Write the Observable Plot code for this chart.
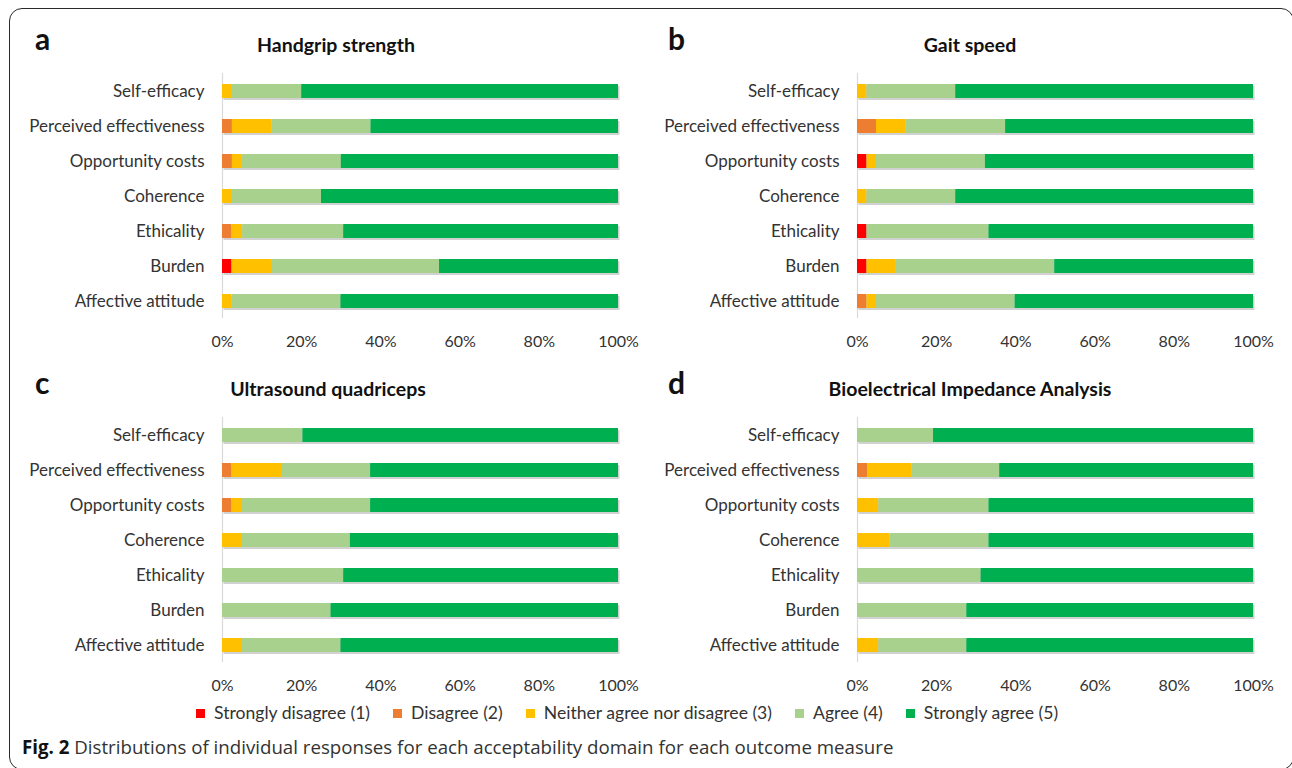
<!DOCTYPE html>
<html>
<head>
<meta charset="utf-8">
<script src="https://cdn.jsdelivr.net/npm/d3@7"></script>
<script src="https://cdn.jsdelivr.net/npm/@observablehq/plot@0.6"></script>
<style>
  html, body { margin: 0; padding: 0; background: #fff; }
  #root { position: relative; width: 1292px; height: 768px; overflow: hidden; background: #fff; font-family: Lato, "Noto Sans", sans-serif; }
  .frame { position: absolute; left: 9px; top: 8px; width: 1285px; height: 761.5px; border: 1.5px solid #2a2a2a; border-radius: 13px; box-sizing: border-box; }
  .panel { position: absolute; }
  .letter { position: absolute; font-family: Lato, sans-serif; font-weight: 700; font-size: 30px; line-height: 30px; color: #111; }
  .title { position: absolute; font-family: Lato, sans-serif; font-weight: 700; font-size: 19.5px; line-height: 20px; color: #111; transform: translateX(-50%); white-space: nowrap; }
  .legend { position: absolute; left: 196px; top: 703px; display: flex; gap: 23px; font-family: Lato, sans-serif; font-size: 17.6px; line-height: 20px; color: #333; }
  .legend .item { display: flex; align-items: center; gap: 9px; white-space: nowrap; }
  .legend .sw { width: 9px; height: 9px; display: inline-block; }
  .caption { position: absolute; left: 22px; top: 735px; font-family: "Open Sans", sans-serif; font-size: 18.7px; line-height: 24px; color: #333; white-space: nowrap; }
  .caption b { color: #111; }
</style>
</head>
<body>
<div id="root">
  <div class="frame"></div>
</div>
<script>
// ---- Data (percent of responses) ----
const domains = ["Self-efficacy", "Perceived effectiveness", "Opportunity costs", "Coherence", "Ethicality", "Burden", "Affective attitude"];
const levels = ["Strongly disagree (1)", "Disagree (2)", "Neither agree nor disagree (3)", "Agree (4)", "Strongly agree (5)"];
const levelColors = ["#FF0000", "#ED7D31", "#FFC000", "#A9D18E", "#00B050"];
const xTicks = [0, 20, 40, 60, 80, 100];
const panelLetters = ["a", "b", "c", "d"];
const panelTitles = ["Handgrip strength", "Gait speed", "Ultrasound quadriceps", "Bioelectrical Impedance Analysis"];

// rows follow `domains`; columns follow `levels`
const handgripStrength = [
  [0, 0, 2.5, 17.5, 80.0],
  [0, 2.5, 10.0, 25.0, 62.5],
  [0, 2.5, 2.5, 25.0, 70.0],
  [0, 0, 2.5, 22.5, 75.0],
  [0, 2.4, 2.7, 25.5, 69.4],
  [2.4, 0, 10.0, 42.4, 45.2],
  [0, 0, 2.4, 27.5, 70.1]
];
const gaitSpeed = [
  [0, 0, 2.4, 22.4, 75.2],
  [0, 4.8, 7.5, 25.1, 62.6],
  [2.4, 0, 2.4, 27.5, 67.7],
  [0, 0, 2.4, 22.4, 75.2],
  [2.4, 0, 0, 30.8, 66.8],
  [2.4, 0, 7.4, 40.0, 50.2],
  [0, 2.4, 2.4, 35.0, 60.2]
];
const ultrasoundQuadriceps = [
  [0, 0, 0, 20.3, 79.7],
  [0, 2.4, 12.5, 22.5, 62.6],
  [0, 2.4, 2.4, 32.6, 62.6],
  [0, 0, 4.8, 27.5, 67.7],
  [0, 0, 0, 30.6, 69.4],
  [0, 0, 0, 27.4, 72.6],
  [0, 0, 4.8, 25.1, 70.1]
];
const bioelectricalImpedance = [
  [0, 0, 0, 19.2, 80.8],
  [0, 2.6, 11.2, 22.1, 64.1],
  [0, 0, 5.4, 27.8, 66.8],
  [0, 0, 8.2, 25.0, 66.8],
  [0, 0, 0, 31.2, 68.8],
  [0, 0, 0, 27.6, 72.4],
  [0, 0, 5.4, 22.2, 72.4]
];
const panelData = [handgripStrength, gaitSpeed, ultrasoundQuadriceps, bioelectricalImpedance];

// ---- Layout ----
const root = document.getElementById("root");
const W = 646, H = 358;
const layouts = [
  {left: 0, top: 0, ml: 222, mr: 28, letterX: 35, titleX: 336},
  {left: 646, top: 0, ml: 211, mr: 39, letterX: 668, titleX: 970},
  {left: 0, top: 344, ml: 222, mr: 28, letterX: 35, titleX: 328},
  {left: 646, top: 344, ml: 211, mr: 39, letterX: 668, titleX: 970}
];

panelData.forEach((rows, i) => {
  const L = layouts[i];
  const data = [];
  rows.forEach((vals, r) => vals.forEach((v, c) => data.push({domain: domains[r], level: levels[c], value: v})));
  const totals = rows.map((vals, r) => ({domain: domains[r], total: d3.sum(vals)}));

  const chart = Plot.plot({
    width: W, height: H,
    marginLeft: L.ml, marginRight: L.mr, marginTop: 73, marginBottom: 40,
    style: {fontFamily: "Lato, sans-serif", fontSize: "16px", color: "#333", background: "transparent", overflow: "visible"},
    x: {domain: [0, 100], label: null},
    y: {domain: domains, paddingInner: 0.6, paddingOuter: 0.3, label: null},
    color: {domain: levels, range: levelColors},
    marks: [
      Plot.ruleX([0], {stroke: "#d9d9d9", strokeWidth: 1.2}),
      Plot.barX(totals, {x1: 0, x2: "total", y: "domain", fill: "#9a9a9a", fillOpacity: 0.45, dx: 1.5, dy: 2}),
      Plot.barX(data, Plot.stackX({x: "value", y: "domain", fill: "level", order: levels})),
      Plot.axisY({tickSize: 0, tickPadding: 18, fontSize: 17, fill: "#333", label: null}),
      Plot.axisX({ticks: xTicks, tickFormat: d => d + "%", tickSize: 0, tickPadding: 17, fontSize: 16, fill: "#333", label: null})
    ]
  });
  const wrap = document.createElement("div");
  wrap.className = "panel";
  wrap.style.left = L.left + "px";
  wrap.style.top = L.top + "px";
  wrap.appendChild(chart);
  root.appendChild(wrap);

  const letter = document.createElement("div");
  letter.className = "letter";
  letter.textContent = panelLetters[i];
  letter.style.left = L.letterX + "px";
  letter.style.top = (L.top + 23) + "px";
  root.appendChild(letter);

  const title = document.createElement("div");
  title.className = "title";
  title.textContent = panelTitles[i];
  title.style.left = L.titleX + "px";
  title.style.top = (L.top + 35) + "px";
  root.appendChild(title);
});

// ---- Legend ----
const legend = document.createElement("div");
legend.className = "legend";
levels.forEach((lv, i) => {
  const item = document.createElement("span");
  item.className = "item";
  const sw = document.createElement("span");
  sw.className = "sw";
  sw.style.background = levelColors[i];
  const tx = document.createElement("span");
  tx.textContent = lv;
  item.appendChild(sw); item.appendChild(tx);
  legend.appendChild(item);
});
root.appendChild(legend);

// ---- Caption ----
const cap = document.createElement("div");
cap.className = "caption";
cap.innerHTML = "<b>Fig. 2</b> Distributions of individual responses for each acceptability domain for each outcome measure";
root.appendChild(cap);
</script>
</body>
</html>
